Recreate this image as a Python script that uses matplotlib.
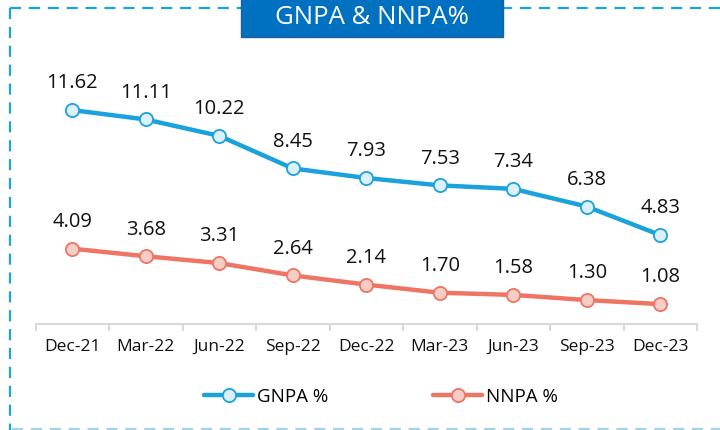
import matplotlib
matplotlib.use("Agg")
import matplotlib.pyplot as plt
from matplotlib.lines import Line2D
from matplotlib.patches import Rectangle
import numpy as np

categories = ["Dec-21", "Mar-22", "Jun-22", "Sep-22", "Dec-22", "Mar-23", "Jun-23", "Sep-23", "Dec-23"]
gnpa = [11.62, 11.11, 10.22, 8.45, 7.93, 7.53, 7.34, 6.38, 4.83]
nnpa = [4.09, 3.68, 3.31, 2.64, 2.14, 1.70, 1.58, 1.30, 1.08]
gnpa_labels = ["11.62", "11.11", "10.22", "8.45", "7.93", "7.53", "7.34", "6.38", "4.83"]
nnpa_labels = ["4.09", "3.68", "3.31", "2.64", "2.14", "1.70", "1.58", "1.30", "1.08"]
title = "GNPA & NNPA%"

W, H = 720, 430
fig = plt.figure(figsize=(7.2, 4.3), dpi=100)
plt.rcParams['font.family'] = ['Open Sans', 'DejaVu Sans']

ymax = 14.0
ax_left, ax_right = 35.5, 697
ax_bottom_px = 324
px_per_unit = 18.41
ax_top_px = ax_bottom_px - ymax * px_per_unit
ax = fig.add_axes([ax_left / W, (H - ax_bottom_px) / H, (ax_right - ax_left) / W, (ax_bottom_px - ax_top_px) / H])

x = np.arange(len(categories))
blue = "#19A2DC"
red = "#EE7564"
ax.plot(x, gnpa, color=blue, lw=3.2, marker="o", ms=9.5, mfc="#DCF0FB", mec=blue, mew=1.3,
        label="GNPA %", solid_capstyle="round", zorder=3)
ax.plot(x, nnpa, color=red, lw=3.2, marker="o", ms=9.5, mfc="#F8CDC5", mec=red, mew=1.3,
        label="NNPA %", solid_capstyle="round", zorder=3)

for xi, v, t in zip(x, gnpa, gnpa_labels):
    ax.annotate(t, (xi, v), xytext=(0, 12), textcoords="offset points", ha="center", va="bottom",
                fontsize=14.5, color="#111111")
for xi, v, t in zip(x, nnpa, nnpa_labels):
    ax.annotate(t, (xi, v), xytext=(0, 12), textcoords="offset points", ha="center", va="bottom",
                fontsize=14.5, color="#111111")

ax.set_xlim(-0.5, len(categories) - 0.5)
ax.set_ylim(0, ymax)
for s in ["top", "right", "left"]:
    ax.spines[s].set_visible(False)
ax.spines["bottom"].set_color("#D9D9D9")
ax.spines["bottom"].set_linewidth(1.5)
ax.set_yticks([])
ax.set_xticks(x)
ax.set_xticklabels(categories, fontsize=12.5, color="#111111")
ax.tick_params(axis="x", which="major", length=0, pad=11)
ax.set_xticks(np.arange(-0.5, len(categories), 1.0), minor=True)
ax.tick_params(axis="x", which="minor", length=5, width=1.5, color="#D9D9D9")
ax.patch.set_alpha(0)

leg = fig.legend(loc="center", bbox_to_anchor=(381 / W, (H - 397) / H), ncol=2, frameon=False,
                 fontsize=13.5, handlelength=2.6, columnspacing=5.6, handletextpad=0.2)

# dashed border
fig.add_artist(Line2D([10 / W, 1.0], [(H - 8) / H, (H - 8) / H], color="#1AA3DE", lw=1.6,
                      linestyle=(0, (5, 3.5)), transform=fig.transFigure))
fig.add_artist(Line2D([10 / W, 10 / W], [(H - 8) / H, 0], color="#1AA3DE", lw=1.6,
                      linestyle=(0, (5, 3.5)), transform=fig.transFigure))
fig.add_artist(Line2D([12 / W, 1.0], [(H - 429) / H, (H - 429) / H], color="#A0D4E8", lw=1.6,
                      linestyle=(0, (5, 3.5)), transform=fig.transFigure))

# title box
fig.add_artist(Rectangle((241 / W, (H - 37) / H), (503 - 241) / W, 40 / H, transform=fig.transFigure,
                         facecolor="#0070C0", edgecolor="#1F5F94", lw=1.0, zorder=5))
fig.text(372 / W, (H - 18) / H, title, color="white", fontsize=18.5, ha="center", va="center", zorder=6)

fig.savefig("out.png", dpi=100)
